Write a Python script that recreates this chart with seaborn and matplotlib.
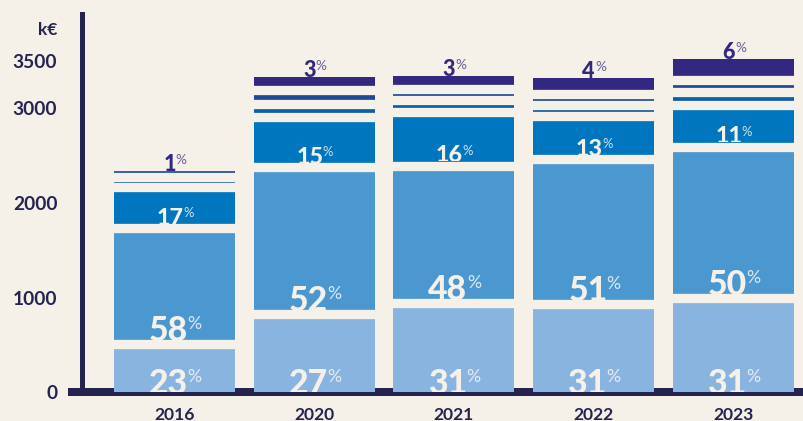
import numpy as np
import matplotlib
matplotlib.use("Agg")
import matplotlib.pyplot as plt
from matplotlib import font_manager as fm
from matplotlib.patches import Rectangle
from matplotlib.textpath import TextPath
import seaborn as sns

# ---------------- data (k€) ----------------
years = ["2016", "2020", "2021", "2022", "2023"]
seg_light  = [506, 824, 940, 930, 993]
seg_medium = [1225, 1552, 1452, 1531, 1600]
seg_dark   = [434, 537, 565, 459, 447]
seg_thin_a = [111, 134, 132, 120, 128]
seg_thin_b = [111, 143, 116, 107, 127]
seg_navy   = [24, 141, 136, 173, 226]

pct_light  = [23, 27, 31, 31, 31]
pct_medium = [58, 52, 48, 51, 50]
pct_dark   = [17, 15, 16, 13, 11]
pct_navy   = [1, 3, 3, 4, 6]

y_ticks = [0, 1000, 2000, 3000]
y_minor = [3500]
unit_label = "k€"

# ---------------- style ----------------
BG = "#f5f1e9"
INK = "#24244f"
colors = ["#8ab4e0", "#4b98d1", "#0076be", "#0b5ea9", "#1f4896", "#33287f"]

W, H, DPI = 804, 421, 100
ax_left_px, zero_px, top_px = 82, 392.4, 14
px_per_unit_y = 0.0947
cat0_px, step_px, bar_w_px = 174.5, 139.75, 121
gap_px = 9.3

sns.set_style("white")
plt.rcParams["font.family"] = ["Lato", "DejaVu Sans"]


def pick_heavy(families, minw=800):
    for fam in families:
        best = None
        for f in fm.fontManager.ttflist:
            if f.name != fam or f.style != "normal":
                continue
            w = f.weight if isinstance(f.weight, int) else fm.weight_dict.get(f.weight, 400)
            if w >= minw and (best is None or w > best[0]):
                best = (w, f.fname)
        if best:
            return fam, best[1]
    return "DejaVu Sans", None


heavy_fam, heavy_file = pick_heavy(["Lato", "Roboto", "Open Sans", "Noto Sans", "Inter"])


def heavy_fp(size):
    if heavy_file:
        return fm.FontProperties(fname=heavy_file, size=size)
    return fm.FontProperties(family="DejaVu Sans", weight="bold", size=size)


def light_fp(size):
    return fm.FontProperties(family=[heavy_fam, "DejaVu Sans"], weight="normal", size=size)


def ink(s, fp):
    """ink extents in pixels (x0, y0, x1, y1) relative to origin/baseline"""
    e = TextPath((0, 0), s, prop=fp).get_extents()
    k = DPI / 72.0
    return e.x0 * k, e.y0 * k, e.x1 * k, e.y1 * k


def size_for_height(s, fp_maker, target_px):
    _, y0, _, y1 = ink(s, fp_maker(10))
    return 10 * target_px / (y1 - y0)


fig = plt.figure(figsize=(W / DPI, H / DPI), dpi=DPI, facecolor=BG)
ax = fig.add_axes([ax_left_px / W, (H - zero_px) / H, (W - ax_left_px) / W, (zero_px - top_px) / H])
ax.set_facecolor(BG)

layers = [seg_light, seg_medium, seg_dark, seg_thin_a, seg_thin_b, seg_navy]
cum = np.cumsum(np.array(layers, dtype=float), axis=0)
bw = bar_w_px / step_px

for k in reversed(range(len(layers))):
    sns.barplot(x=years, y=cum[k], color=colors[k], width=bw, saturation=1,
                linewidth=0, errorbar=None, ax=ax, zorder=2)

ymax = (zero_px - top_px) / px_per_unit_y
xmin = -(cat0_px - ax_left_px) / step_px
xmax = (W - cat0_px) / step_px
ax.set_xlim(xmin, xmax)
ax.set_ylim(0, ymax)

gap = gap_px / px_per_unit_y
xs = np.arange(len(years))
for k in range(len(layers) - 1):
    ax.hlines(cum[k], xs - bw / 2 - 0.02, xs + bw / 2 + 0.02, colors=BG,
              linewidth=gap_px * 72 / DPI, zorder=3)

# baseline axis line
ax.axhline(0, xmin=(68 - ax_left_px) / (W - ax_left_px), xmax=1, color=INK,
           linewidth=8 * 72 / DPI, solid_capstyle="butt", clip_on=False, zorder=1.5)

# ---------------- labels ----------------
def py(v):
    return v / px_per_unit_y


big_d = size_for_height("0", heavy_fp, 25.0)
small_d = size_for_height("0", heavy_fp, 17.2)
navy_d = size_for_height("0", heavy_fp, 16.0)
big_p = size_for_height("%", light_fp, 13.0)
small_p = size_for_height("%", light_fp, 9.5)
navy_p = size_for_height("%", light_fp, 10.0)


def add_label(i, digit_top, digits, dsize, psize, dcol, pcol, pct_top_shift=0.0, clip=None):
    fpd, fpp = heavy_fp(dsize), light_fp(psize)
    s = str(digits)
    dx0, dy0, dx1, dy1 = ink(s, fpd)
    px0, py0, px1, py1 = ink("%", fpp)
    sep = 1.8
    total = (dx1 - dx0) + sep + (px1 - px0)
    left_px = -total / 2
    xd = i + left_px / step_px
    xp = i + (left_px + (dx1 - dx0) + sep) / step_px
    base_d = digit_top - py(dy1)
    base_p = digit_top + py(pct_top_shift) - py(py1)
    t1 = ax.text(xd, base_d, s, fontproperties=fpd, color=dcol,
                 ha="left", va="baseline", zorder=6)
    t2 = ax.text(xp, base_p, "%", fontproperties=fpp, color=pcol,
                 ha="left", va="baseline", zorder=6)
    if clip is not None:
        for t in (t1, t2):
            t.set_clip_on(True)
            t.set_clip_path(clip)


inner = [(0, pct_light, big_d, big_p, 23.4), (1, pct_medium, big_d, big_p, 23.4),
         (2, pct_dark, small_d, small_p, 15.6)]
WHITE_D = BG
WHITE_P = (0.97, 0.96, 0.95, 0.85)
for i in range(len(years)):
    for k, pcts, dsize, psize, top_off in inner:
        lower = (cum[k - 1][i] + gap / 2) if k > 0 else 0.0
        upper = cum[k][i] - gap / 2
        rect = Rectangle((i - bw / 2, lower), bw, upper - lower, transform=ax.transData)
        add_label(i, lower + py(top_off), pcts[i], dsize, psize, WHITE_D, WHITE_P,
                  pct_top_shift=0.3, clip=rect)
    # navy label on top of the stack
    nav_bottom_vis = cum[4][i] + gap / 2
    top = cum[5][i]
    base = top if top > nav_bottom_vis else cum[4][i] - gap / 2
    add_label(i, base + py(15.5), pct_navy[i], navy_d, navy_p, colors[5],
              (0.2, 0.16, 0.5, 0.72), pct_top_shift=1.2)

# ---------------- axes styling ----------------
for s in ["top", "right", "bottom"]:
    ax.spines[s].set_visible(False)
ax.spines["left"].set_linewidth(5 * 72 / DPI)
ax.spines["left"].set_color(INK)
ax.spines["left"].set_zorder(4)

ax.set_yticks(y_ticks, labels=[str(v) for v in y_ticks])
ax.set_yticks(y_minor, labels=[str(v) for v in y_minor], minor=True)
ax.tick_params(axis="y", which="major", direction="inout", length=19.4, width=2.2,
               color=INK, pad=8.1, labelsize=13.8, labelcolor=INK)
ax.tick_params(axis="y", which="minor", direction="inout", length=10.8, width=1.5,
               color=INK, pad=12.4, labelsize=13.8, labelcolor=INK)
ax.set_xticks(xs, labels=years)
ax.tick_params(axis="x", length=0, pad=10.2, labelsize=12.6, labelcolor=INK)
for lab in ax.get_yticklabels(which="both") + ax.get_xticklabels():
    lab.set_fontweight("bold")
ax.set_xlabel("")
ax.set_ylabel("")
ax.grid(False)

fig.text(57.3 / W, 1 - 35 / H, unit_label, ha="right", va="baseline",
         fontsize=12.5, fontweight="bold", color=INK)

fig.savefig("out.png", dpi=DPI, facecolor=BG)
